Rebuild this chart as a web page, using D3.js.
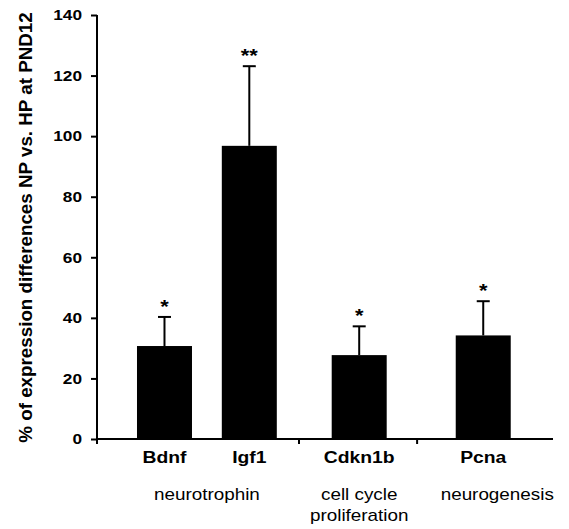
<!DOCTYPE html>
<html>
<head>
<meta charset="utf-8">
<script src="https://cdn.jsdelivr.net/npm/d3@7"></script>
<style>
  body { margin: 0; background: #fff; }
  svg { font-family: "Liberation Sans", Arial, sans-serif; }
</style>
</head>
<body>
<div id="chart"></div>
<script>
// data
var genes = ["Bdnf", "Igf1", "Cdkn1b", "Pcna"];
var values = [30.7, 96.8, 27.7, 34.2];
var errors = [9.6, 26.3, 9.5, 11.3];
var stars = ["*", "**", "*", "*"];
var groups = ["neurotrophin", "cell cycle\nproliferation", "neurogenesis"];
var groupGenes = [["Bdnf", "Igf1"], ["Cdkn1b"], ["Pcna"]];
var yTicks = [0, 20, 40, 60, 80, 100, 120, 140];

var w = 569, h = 529;
var plotL = 97, plotR = 553, plotT = 15, plotB = 439;
var sx = 1.15; // the source figure is a little stretched sideways

var svg = d3.select("#chart").append("svg").attr("width", w).attr("height", h);

var y = d3.scaleLinear().domain([0, 140]).range([plotB, plotT]);
// the figure's bars are not evenly spaced, so the ordinal scale carries the layout
var x = d3.scaleOrdinal().domain(genes).range([0.148, 0.334, 0.575, 0.847].map(function(f) {
  return plotL + f * (plotR - plotL);
}));
var groupEdge = d3.scaleOrdinal().domain(groups).range([0, 0.443, 0.702].map(function(f) {
  return plotL + f * (plotR - plotL);
}));
var barW = 55;

function place(px, py) {
  return "translate(" + px + "," + py + ") scale(" + sx + ",1)";
}

// y axis
var yAxis = d3.axisLeft(y).tickValues(yTicks).tickSize(6).tickPadding(4);
var gy = svg.append("g").attr("transform", "translate(" + plotL + ",0)").call(yAxis);
gy.select(".domain").attr("stroke", "#000").attr("stroke-width", 2).attr("d", "M0," + plotB + "V" + plotT);
gy.selectAll(".tick line").attr("stroke", "#000").attr("stroke-width", 2);
gy.selectAll(".tick text").attr("font-size", 15).attr("font-weight", "bold").attr("fill", "#000")
  .attr("font-family", "Liberation Sans, Arial, sans-serif")
  .attr("x", 0).attr("transform", place(-15, 0));

// bars
svg.selectAll("rect.bar").data(genes).enter().append("rect")
  .attr("class", "bar")
  .attr("x", function(d) { return x(d) - barW / 2; })
  .attr("y", function(d, i) { return y(values[i]); })
  .attr("width", barW)
  .attr("height", function(d, i) { return y(0) - y(values[i]); })
  .attr("fill", "#000");

// error bars (upper only)
var eb = svg.selectAll("g.err").data(genes).enter().append("g").attr("class", "err");
eb.append("line")
  .attr("x1", function(d) { return x(d); }).attr("x2", function(d) { return x(d); })
  .attr("y1", function(d, i) { return y(values[i]); })
  .attr("y2", function(d, i) { return y(values[i] + errors[i]); })
  .attr("stroke", "#000").attr("stroke-width", 2);
eb.append("line")
  .attr("x1", function(d) { return x(d) - 6.5; }).attr("x2", function(d) { return x(d) + 6.5; })
  .attr("y1", function(d, i) { return y(values[i] + errors[i]); })
  .attr("y2", function(d, i) { return y(values[i] + errors[i]); })
  .attr("stroke", "#000").attr("stroke-width", 2);

// significance stars
svg.selectAll("text.star").data(genes).enter().append("text")
  .attr("class", "star")
  .attr("transform", function(d, i) { return place(x(d), y(values[i] + errors[i]) - 4); })
  .attr("text-anchor", "middle")
  .attr("font-size", 19).attr("font-weight", "bold")
  .text(function(d, i) { return stars[i]; });

// x axis line and group separator ticks
svg.append("line").attr("x1", plotL - 1).attr("x2", plotR).attr("y1", plotB).attr("y2", plotB)
  .attr("stroke", "#000").attr("stroke-width", 2);
svg.selectAll("line.gtick").data(groups).enter().append("line")
  .attr("class", "gtick")
  .attr("x1", function(d) { return groupEdge(d); }).attr("x2", function(d) { return groupEdge(d); })
  .attr("y1", plotB).attr("y2", plotB + 5)
  .attr("stroke", "#000").attr("stroke-width", 2);

// gene labels
svg.selectAll("text.gene").data(genes).enter().append("text")
  .attr("class", "gene")
  .attr("transform", function(d) { return place(x(d), 463); })
  .attr("text-anchor", "middle")
  .attr("font-size", 16.8).attr("font-weight", "bold")
  .text(function(d) { return d; });

// group labels
var gl = svg.selectAll("text.group").data(groups).enter().append("text")
  .attr("class", "group")
  .attr("transform", function(d, i) {
    var c = d3.mean(groupGenes[i], function(g) { return x(g); });
    return place(i === 2 ? c + 14 : c, 500);
  })
  .attr("text-anchor", "middle")
  .attr("font-size", 16.4);
gl.selectAll("tspan").data(function(d) { return d.split("\n"); }).enter().append("tspan")
  .attr("x", 0)
  .attr("dy", function(d, i) { return i === 0 ? 0 : 21; })
  .text(function(d) { return d; });

// y axis title
svg.append("text")
  .attr("transform", "translate(32," + 227.5 + ") rotate(-90)")
  .attr("text-anchor", "middle")
  .attr("font-size", 18.8).attr("font-weight", "bold")
  .text("% of expression differences NP vs. HP at PND12");
</script>
</body>
</html>
